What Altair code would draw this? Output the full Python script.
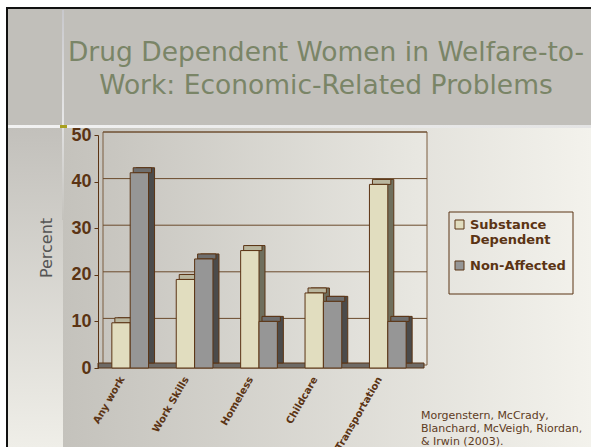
import altair as alt
import pandas as pd

categories = ["Any work", "Work Skills", "Homeless", "Childcare", "Transportation"]
series = ["Substance Dependent", "Non-Affected"]
substance = [9.7, 19.0, 25.2, 16.1, 39.4]
non_affected = [41.9, 23.4, 10.0, 14.3, 10.0]
y_ticks = [0, 10, 20, 30, 40, 50]

title_lines = ["Drug Dependent Women in Welfare-to-", "Work: Economic-Related Problems"]
citation = "Morgenstern, McCrady,\nBlanchard, McVeigh, Riordan,\n& Irwin (2003)."

front_colors = ["#e1ddbf", "#969696"]
top_colors = ["#b9b69e", "#6e6e6e"]
side_colors = ["#6f6f5d", "#4b4b4b"]
BROWN = "#5b3414"

rows = []
for c, s, n in zip(categories, substance, non_affected):
    rows.append({"category": c, "series": series[0], "value": s})
    rows.append({"category": c, "series": series[1], "value": n})
df = pd.DataFrame(rows)
one = pd.DataFrame({"a": [0]})

W, H = 322, 233
L, T = 98, 135
P_IN, P_OUT = 0.43, 0.215
step = W / (len(categories) - P_IN + 2 * P_OUT)
half = step * (1 - P_IN) / 2


def grad(c1, c2, vertical=False):
    return alt.LinearGradient(
        gradient="linear",
        stops=[alt.GradientStop(color=c1, offset=0), alt.GradientStop(color=c2, offset=1)],
        x1=0, x2=0 if vertical else 1, y1=0, y2=1 if vertical else 0,
    )


def box(x, x2, y, y2, fill, **kw):
    return alt.Chart(one).mark_rect(fill=fill, **kw).encode(
        x=alt.value(x - L), x2=alt.value(x2 - L), y=alt.value(y - T), y2=alt.value(y2 - T)
    )


bg = [
    box(0, 591, 0, 447, "#ffffff"),
    box(6, 591, 7, 447, "#111111"),
    box(8, 591, 9, 126, "#c1bfba"),
    box(8, 63, 127, 447, grad("#c2c0bb", "#efeee8", vertical=True)),
    box(63, 591, 127, 447, grad("#c4c2bc", "#f3f2ec")),
    box(8, 591, 125, 128, grad("#f2f2f2", "#e4e4e4")),
    box(62, 64, 10, 125, grad("#c8c8cc", "#e8e8e8", vertical=True)),
    box(62, 64, 128, 220, grad("#e0e0e0", "#c4c2bc", vertical=True)),
    box(60, 67, 125, 128, "#a8a020"),
]

titles = [
    alt.Chart(one).mark_text(text=t, font="DejaVu Sans", fontSize=26.5, color="#7a8567",
                             align="center", baseline="alphabetic").encode(
        x=alt.value(326 - L), y=alt.value(yb - T))
    for t, yb in zip(title_lines, [61, 94])
]

wall = box(103, 427, 132, 365, grad("#c7c5bf", "#e9e8e2"), stroke="#7a5c3e", strokeWidth=1)

yaxis = alt.Axis(values=y_ticks, labelFont="Liberation Sans", labelFontSize=18,
                 labelFontWeight="bold", labelColor=BROWN, domainColor=BROWN,
                 tickColor=BROWN, tickSize=4, labelPadding=3, grid=False, zindex=2)
ybase = alt.Y("value:Q", scale=alt.Scale(domain=[0, 50]), title=None, axis=yaxis)

grid = alt.Chart(pd.DataFrame({"value": y_ticks[1:]})).mark_rule(
    color="#6b4a2c", strokeWidth=1, yOffset=-3
).encode(y=ybase, x=alt.value(5), x2=alt.value(329))

floor = box(98, 424, 363, 368, "#6e6a66", stroke=BROWN, strokeWidth=1)

xenc = alt.X("category:N", sort=categories, title=None,
             scale=alt.Scale(paddingInner=P_IN, paddingOuter=P_OUT),
             axis=alt.Axis(labelAngle=-60, labelFont="DejaVu Sans", labelFontSize=10,
                           labelFontWeight="bold", labelColor=BROWN, domain=False, ticks=False,
                           labelPadding=9, labelOffset=-8, zindex=2))

cscale = alt.Scale(domain=series, range=front_colors)
legend = alt.Legend(
    title=None, orient="none", legendX=447 - L, legendY=212 - T,
    padding=6, symbolType="square", symbolSize=81,
    symbolStrokeColor=BROWN, symbolStrokeWidth=1, labelFont="DejaVu Sans",
    labelFontSize=13, labelFontWeight="bold", labelColor=BROWN,
    labelOffset=4, rowPadding=12, labelLimit=200,
    labelExpr="datum.label == 'Substance Dependent' ? ['Substance', 'Dependent'] : datum.label",
)

side_layers, top_layers, front_layers = [], [], []
for i, s in enumerate(series):
    dx = (i - 0.5) * half
    sub = alt.Chart(df).transform_filter(alt.datum.series == s)
    bw = alt.RelativeBandSize(0.5)
    side_layers.append(sub.mark_bar(fill=side_colors[i], stroke=BROWN, strokeWidth=1, width=bw,
                                    xOffset=dx + 6, yOffset=-5, y2Offset=-5).encode(
        x=xenc, y=ybase, y2=alt.datum(0)))
    top_layers.append(sub.mark_bar(fill=top_colors[i], stroke=BROWN, strokeWidth=1, width=bw,
                                   xOffset=dx + 3, yOffset=-5, y2Offset=0).encode(
        x=xenc, y=ybase, y2="value:Q"))
    front_layers.append(sub.mark_bar(stroke=BROWN, strokeWidth=1, width=bw, xOffset=dx).encode(
        x=xenc, y=ybase,
        color=alt.Color("series:N", sort=series, scale=cscale, legend=legend)))

legend_box = box(449, 573, 212, 294, "transparent", stroke=BROWN, strokeWidth=1)

ylab = alt.Chart(one).mark_text(text="Percent", font="DejaVu Sans", fontSize=16, color="#555555",
                                angle=270, align="center", baseline="middle").encode(
    x=alt.value(47 - L), y=alt.value(248 - T))

cite = alt.Chart(one).mark_text(text=citation, lineBreak="\n", lineHeight=13, font="DejaVu Sans",
                                fontSize=11, color="#5e3c1e", align="left",
                                baseline="alphabetic").encode(
    x=alt.value(421 - L), y=alt.value(419 - T))

chart = alt.layer(*bg, *titles, wall, grid, floor, *side_layers, *top_layers, *front_layers,
                  legend_box, ylab, cite).properties(
    width=W, height=H,
    padding={"left": L, "top": T, "right": 591 - L - W, "bottom": 447 - T - H},
    autosize=alt.AutoSizeParams(type="none"),
).configure_view(stroke=None).configure(background="#efeee8")

chart.save("out.html", embed_options={"renderer": "svg", "actions": False})
